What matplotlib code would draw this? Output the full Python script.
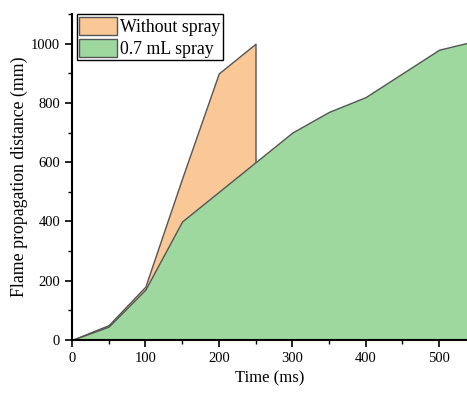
import matplotlib
matplotlib.use("Agg")
import matplotlib.pyplot as plt
from matplotlib.ticker import MultipleLocator

# Data
t_no = [0, 50, 100, 150, 200, 250]
d_no = [0, 50, 180, 545, 900, 1000]

t_sp = [0, 50, 100, 150, 200, 250, 300, 350, 400, 450, 500, 550]
d_sp = [0, 45, 170, 400, 500, 600, 700, 770, 820, 900, 980, 1010]

plt.rcParams['font.family'] = ['Liberation Serif', 'DejaVu Serif']

fig = plt.figure(figsize=(4.67, 3.93), dpi=100)
ax = fig.add_axes([0.154, 0.135, 0.846, 0.829])

ax.fill_between(t_no, d_no, 0, facecolor='#FAC896', edgecolor='#555555',
                linewidth=1.0, label='Without spray')
ax.fill_between(t_sp, d_sp, 0, facecolor='#9ED89E', edgecolor='#555555',
                linewidth=1.0, label='0.7 mL spray')

ax.set_xlim(0, 538)
ax.set_ylim(0, 1100)
ax.xaxis.set_major_locator(MultipleLocator(100))
ax.xaxis.set_minor_locator(MultipleLocator(50))
ax.yaxis.set_major_locator(MultipleLocator(200))
ax.yaxis.set_minor_locator(MultipleLocator(100))
ax.tick_params(which='major', direction='out', length=5, width=1.2, labelsize=10.5)
ax.tick_params(which='minor', direction='out', length=3, width=1.0)

for s in ['top', 'right']:
    ax.spines[s].set_visible(False)
for s in ['left', 'bottom']:
    ax.spines[s].set_linewidth(1.5)
ax.set_axisbelow(False)

ax.set_xlabel('Time (ms)', fontsize=12)
ax.set_ylabel('Flame propagation distance (mm)', fontsize=12.8, labelpad=2)

leg = ax.legend(loc='upper left', fontsize=12.8, fancybox=False, framealpha=1,
                edgecolor='black', borderpad=0.15, handlelength=2.1,
                handleheight=1.2, handletextpad=0.2, labelspacing=0.15,
                bbox_to_anchor=(0.012, 1.0), borderaxespad=0.0)
leg.get_frame().set_linewidth(1.0)

fig.savefig('out.png', dpi=100)
